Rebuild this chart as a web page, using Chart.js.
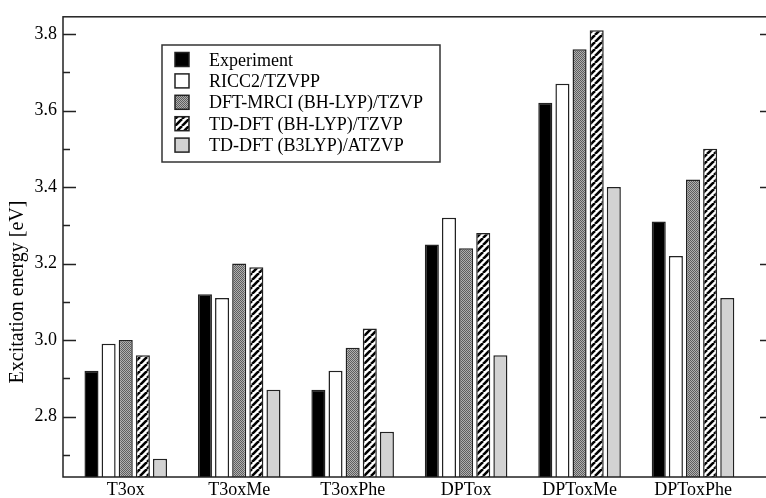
<!DOCTYPE html>
<html>
<head>
<meta charset="utf-8">
<script src="https://cdn.jsdelivr.net/npm/chart.js@4/dist/chart.umd.min.js"></script>
<style>
  html, body { margin: 0; padding: 0; background: #fff; overflow: hidden; }
  #wrap { width: 775px; height: 498px; position: relative; }
</style>
</head>
<body>
<div id="wrap"><canvas id="energyChart"></canvas></div>
<script>
// molecules and excitation energies (eV) per method
const groups = ['T3ox', 'T3oxMe', 'T3oxPhe', 'DPTox', 'DPToxMe', 'DPToxPhe'];
const experiment = [2.92, 3.12, 2.87, 3.25, 3.62, 3.31];
const ricc2 = [2.99, 3.11, 2.92, 3.32, 3.67, 3.22];
const dftMrci = [3.00, 3.20, 2.98, 3.24, 3.76, 3.42];
const tddftBhlyp = [2.96, 3.19, 3.03, 3.28, 3.81, 3.50];
const tddftB3lyp = [2.69, 2.87, 2.76, 2.96, 3.40, 3.11];

const seriesNames = ['Experiment', 'RICC2/TZVPP', 'DFT-MRCI (BH-LYP)/TZVP', 'TD-DFT (BH-LYP)/TZVP', 'TD-DFT (B3LYP)/ATZVP'];

// axis ticks
const yMajor = [2.8, 3.0, 3.2, 3.4, 3.6, 3.8];
const yMinor = [2.7, 2.9, 3.1, 3.3, 3.5, 3.7];

const FONT = 'Liberation Serif, Times New Roman, serif';
const EDGE = '#222';

// fill patterns
function dotPattern() {
    const c = document.createElement('canvas');
    c.width = 2; c.height = 2;
    const g = c.getContext('2d');
    g.fillStyle = '#b0b0b0'; g.fillRect(0, 0, 2, 2);
    g.fillStyle = '#5e5e5e'; g.fillRect(0, 0, 1, 1); g.fillRect(1, 1, 1, 1);
    return g.createPattern(c, 'repeat');
}

function stripePattern() {
    const s = 7;
    const c = document.createElement('canvas');
    c.width = s; c.height = s;
    const g = c.getContext('2d');
    g.fillStyle = '#fff'; g.fillRect(0, 0, s, s);
    g.strokeStyle = '#000'; g.lineWidth = 2.6;
    [-s, 0, s].forEach(k => {
        g.beginPath(); g.moveTo(k, s); g.lineTo(k + s, 0); g.stroke();
    });
    return g.createPattern(c, 'repeat');
}

const fills = ['#000000', '#ffffff', dotPattern(), stripePattern(), '#d2d2d2'];
const values = [experiment, ricc2, dftMrci, tddftBhlyp, tddftB3lyp];

const datasets = values.map((arr, i) => ({
    label: seriesNames[i],
    data: arr.map((v, j) => ({ x: j + 1, y: v })),
    backgroundColor: fills[i],
    borderColor: EDGE,
    borderWidth: 1.5,
    borderSkipped: 'bottom',
    categoryPercentage: 0.755,
    barPercentage: 0.82
}));

// frame, inward ticks, y title and legend box
const decorations = {
    id: 'decorations',
    afterDraw(chart) {
        const ctx = chart.ctx;
        const a = chart.chartArea;
        const y = chart.scales.y;
        ctx.save();
        ctx.strokeStyle = EDGE;
        ctx.lineWidth = 1.5;
        ctx.strokeRect(a.left, a.top, a.right - a.left, a.bottom - a.top);

        ctx.beginPath();
        yMajor.forEach(v => {
            const p = Math.round(y.getPixelForValue(v)) + 0.5;
            ctx.moveTo(a.left, p); ctx.lineTo(a.left + 13, p);
            ctx.moveTo(a.right, p); ctx.lineTo(a.right - 13, p);
        });
        yMinor.forEach(v => {
            const p = Math.round(y.getPixelForValue(v)) + 0.5;
            ctx.moveTo(a.left, p); ctx.lineTo(a.left + 7, p);
            ctx.moveTo(a.right, p); ctx.lineTo(a.right - 7, p);
        });
        ctx.stroke();

        // axis title
        ctx.fillStyle = '#000';
        ctx.font = '20px ' + FONT;
        ctx.translate(23, 292);
        ctx.rotate(-Math.PI / 2);
        ctx.textAlign = 'center';
        ctx.textBaseline = 'alphabetic';
        ctx.fillText('Excitation energy [eV]', 0, 0);
        ctx.restore();

        // legend
        ctx.save();
        const bx = 162, by = 45, bw = 278, bh = 117;
        ctx.fillStyle = '#fff';
        ctx.fillRect(bx, by, bw, bh);
        ctx.strokeStyle = '#333';
        ctx.lineWidth = 1.5;
        ctx.strokeRect(bx, by, bw, bh);
        ctx.font = '18px ' + FONT;
        ctx.textAlign = 'left';
        ctx.textBaseline = 'alphabetic';
        chart.data.datasets.forEach((ds, i) => {
            const cy = 59.5 + i * 21.4;
            ctx.fillStyle = ds.backgroundColor;
            ctx.fillRect(175, cy - 7, 14, 14);
            ctx.strokeStyle = EDGE;
            ctx.lineWidth = 1.5;
            ctx.strokeRect(175, cy - 7, 14, 14);
            ctx.fillStyle = '#000';
            ctx.fillText(ds.label, 209, cy + 6);
        });
        ctx.restore();
    }
};

new Chart(document.getElementById('energyChart'), {
    type: 'bar',
    data: { datasets },
    options: {
        responsive: true,
        maintainAspectRatio: false,
        animation: false,
        events: [],
        layout: { padding: { top: 10, right: 2, left: 0, bottom: 0 } },
        plugins: { legend: { display: false }, tooltip: { enabled: false } },
        scales: {
            x: {
                type: 'linear',
                offset: false,
                min: 0.447,
                max: 6.705,
                grid: { display: false, drawTicks: false, tickLength: 0, offset: false },
                border: { display: false },
                afterBuildTicks: s => { s.ticks = groups.map((g, i) => ({ value: i + 1 })); },
                afterFit: s => { s.height = 21; },
                ticks: {
                    padding: 2,
                    autoSkip: false,
                    maxRotation: 0,
                    color: '#000',
                    font: { family: FONT, size: 18 },
                    callback: v => groups[v - 1]
                }
            },
            y: {
                min: 2.642,
                max: 3.845,
                grid: { display: false, drawTicks: false, tickLength: 0 },
                border: { display: false },
                afterBuildTicks: s => { s.ticks = yMajor.map(v => ({ value: v })); },
                afterFit: s => { s.width = 63; },
                ticks: {
                    padding: 6,
                    color: '#000',
                    font: { family: FONT, size: 18 },
                    callback: v => Number(v).toFixed(1)
                }
            }
        }
    },
    plugins: [decorations]
});
</script>
</body>
</html>
